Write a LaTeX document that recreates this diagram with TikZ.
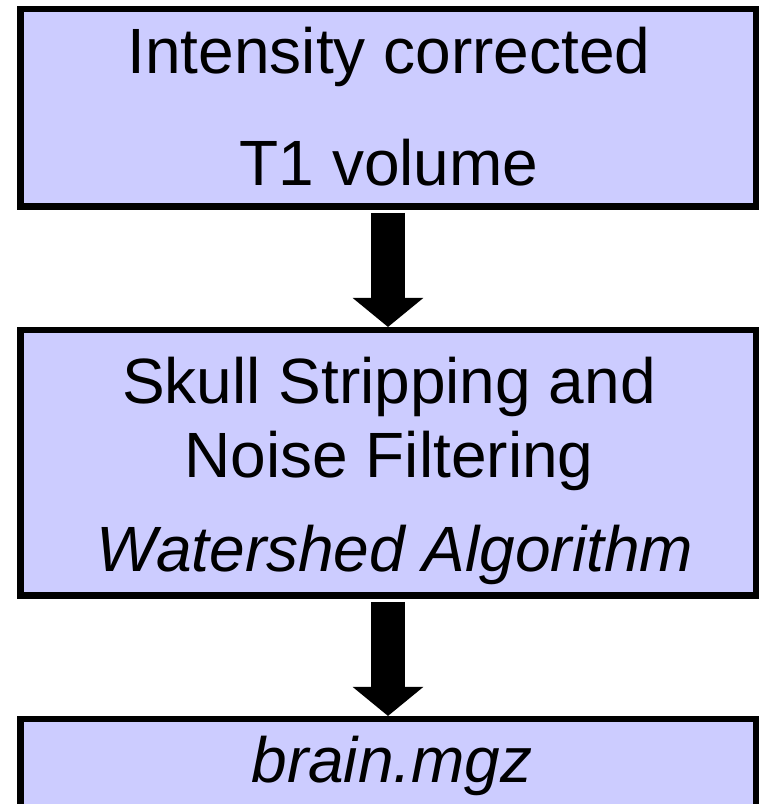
\documentclass[tikz,border=0pt]{standalone}
\usepackage{fontspec}
\setmainfont{Liberation Sans}
\usetikzlibrary{arrows.meta}
\definecolor{boxfill}{HTML}{CCCCFF}
\tikzset{
  stagebox/.style={draw=black, fill=boxfill, line width=6.5pt, rectangle, minimum width=735.5pt, inner sep=0pt},
  label/.style={anchor=base, inner sep=0pt, font=\fontsize{64}{76}\selectfont},
  blockarrow/.style={line width=34pt, -{Triangle[width=69pt,length=29pt]}, shorten <=3pt}
}
\begin{document}
\begin{tikzpicture}[x=1pt,y=1pt]
\useasboundingbox (0,0) rectangle (761,804);
\clip (0,0) rectangle (761,804);
\fill[white] (0,0) rectangle (761,804);
\node[stagebox, minimum height=197.5pt] (b1) at (388,696) {};
\node[stagebox, minimum height=265.5pt] (b2) at (388,341) {};
\node[stagebox, minimum height=110.75pt] (b3) at (388,29.4) {};
\node[label] (t1) at (389,730) {Intensity corrected};
\node[label] (t2) at (389,618) {T1 volume};
\node[label] (t3) at (389,400) {Skull Stripping and};
\node[label] (t4) at (389,326) {Noise Filtering};
\node[label] (t5) at (395,232) {\itshape Watershed Algorithm};
\node[label] (t6) at (392,21) {\itshape brain.mgz};
\draw[blockarrow] (b1.south) -- (b2.north);
\draw[blockarrow] (b2.south) -- (b3.north);
\end{tikzpicture}
\end{document}
